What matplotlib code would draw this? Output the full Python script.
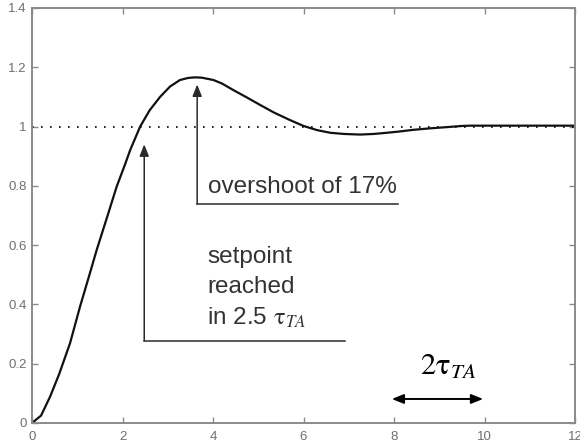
import matplotlib.pyplot as plt
import numpy as np

# step response
t = [0, 0.2, 0.4, 0.6, 0.84, 1.06, 1.25, 1.43, 1.65, 1.87, 2.05, 2.17, 2.39,
     2.6, 2.83, 3.05, 3.27, 3.45, 3.6, 3.75, 4.01, 4.2, 4.45, 4.75, 5.04,
     5.35, 5.7, 6.0, 6.3, 6.59, 6.9, 7.25, 7.55, 7.84, 8.1, 8.43, 8.8, 9.16,
     9.5, 9.68, 10, 11, 12]
y = [0, 0.025, 0.089, 0.165, 0.269, 0.392, 0.49, 0.584, 0.69, 0.797, 0.87,
     0.921, 1.0, 1.055, 1.10, 1.135, 1.157, 1.164, 1.166, 1.165, 1.157,
     1.145, 1.123, 1.098, 1.073, 1.047, 1.022, 1.002, 0.988, 0.979, 0.975,
     0.973, 0.975, 0.979, 0.983, 0.989, 0.994, 0.998, 1.002, 1.003, 1.003,
     1.003, 1.003]
setpoint = 1.0

xticks = [0, 2, 4, 6, 8, 10, 12]
yticks = [0, 0.2, 0.4, 0.6, 0.8, 1.0, 1.2, 1.4]
ylabels = ['0', '0.2', '0.4', '0.6', '0.8', '1', '1.2', '1.4']

plt.rcParams['font.family'] = ['Liberation Sans', 'DejaVu Sans']
plt.rcParams['mathtext.fontset'] = 'stix'

fig = plt.figure(figsize=(5.8, 4.46), dpi=100)
ax = fig.add_axes([0.0552, 0.0516, 0.9362, 0.9305])

ax.plot([0, 12], [setpoint, setpoint], color='black', lw=1.2,
        linestyle=(0, (1, 4.4)))
ax.plot(t, y, color='#111111', lw=1.6)

ax.set_xlim(0, 12)
ax.set_ylim(0, 1.4)
ax.set_xticks(xticks)
ax.set_xticklabels([str(v) for v in xticks])
ax.set_yticks(yticks)
ax.set_yticklabels(ylabels)

gray = '#8a8a8a'
for s in ax.spines.values():
    s.set_color(gray)
    s.set_linewidth(1.4)
ax.tick_params(direction='in', length=4, width=1, color=gray,
               labelcolor='#6f6f6f', labelsize=9.5,
               top=True, right=True)
ax.tick_params(axis='x', pad=6)
ax.tick_params(axis='y', pad=4)

line_c = '#2a2a2a'
head = '-|>,head_length=0.5,head_width=0.2'

# setpoint reached
ax.annotate('', xy=(2.48, 0.94), xytext=(2.48, 0.278),
            arrowprops=dict(arrowstyle=head, color=line_c, lw=1.1,
                            mutation_scale=14, shrinkA=0, shrinkB=0))
ax.plot([2.48, 6.92], [0.278, 0.278], color=line_c, lw=1.1)

# overshoot
ax.annotate('', xy=(3.65, 1.142), xytext=(3.65, 0.739),
            arrowprops=dict(arrowstyle=head, color=line_c, lw=1.1,
                            mutation_scale=14, shrinkA=0, shrinkB=0))
ax.plot([3.65, 8.09], [0.739, 0.739], color=line_c, lw=1.1)

txt_c = '#333333'
ax.text(3.89, 0.776, 'overshoot of 17%', fontsize=17.5, color=txt_c,
        va='baseline', ha='left')
ax.text(3.87, 0.540, 'setpoint', fontsize=17.5, color=txt_c,
        va='baseline', ha='left')
ax.text(3.87, 0.439, 'reached', fontsize=17.5, color=txt_c,
        va='baseline', ha='left')
ax.text(3.87, 0.331, r'in 2.5 $\mathrm{\tau}_{TA}$', fontsize=17.5,
        color=txt_c, va='baseline', ha='left')

# 2 tau span
ax.annotate('', xy=(9.97, 0.081), xytext=(7.95, 0.081),
            arrowprops=dict(arrowstyle='<|-|>,head_length=0.5,head_width=0.2',
                            color='black', lw=1.4, mutation_scale=14,
                            shrinkA=0, shrinkB=0))
ax.text(8.57, 0.162, r'$2\mathrm{\tau}_{TA}$', fontsize=22, color='black',
        va='baseline', ha='left')

fig.savefig('out.png', dpi=100)
